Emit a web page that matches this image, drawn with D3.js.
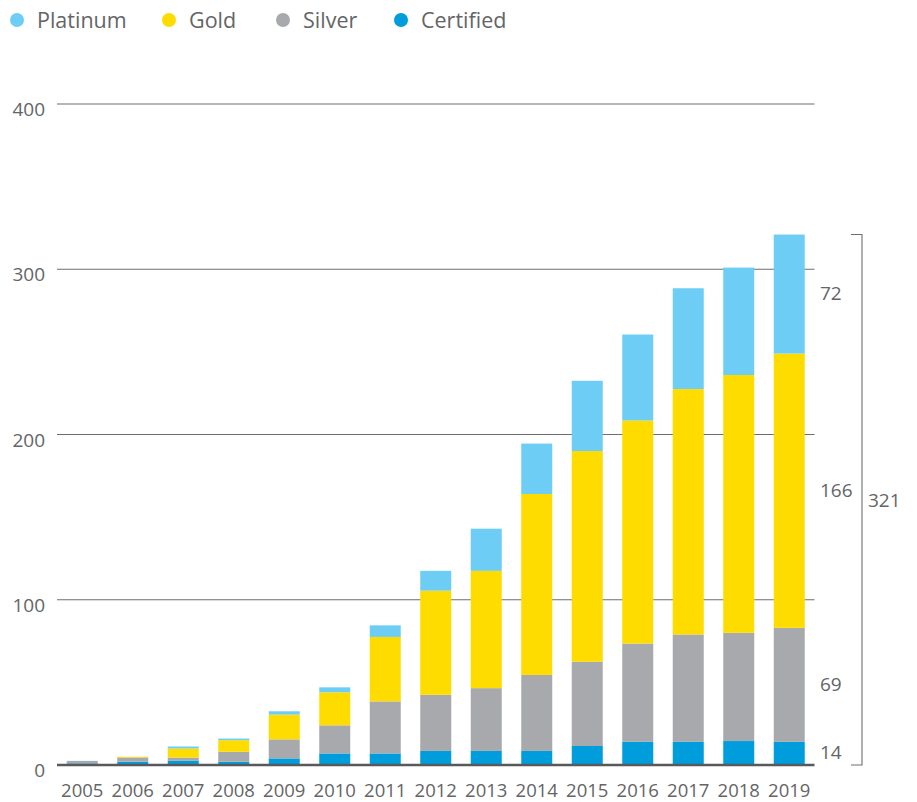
<!DOCTYPE html>
<html>
<head>
<meta charset="utf-8">
<script src="https://d3js.org/d3.v7.min.js"></script>
<style>
  html, body { margin: 0; padding: 0; background: #fff; }
  svg { display: block; font-family: "Open Sans", sans-serif; }
</style>
</head>
<body>
<svg width="917" height="802"></svg>
<script>
// Данные графика
const years = ["2005", "2006", "2007", "2008", "2009", "2010", "2011", "2012",
               "2013", "2014", "2015", "2016", "2017", "2018", "2019"];
const certified = [1, 2, 2.5, 2, 4, 7, 7, 8.5, 8.5, 8.5, 11.5, 14, 14, 14.5, 14];
const silver    = [1.5, 2.5, 2, 6, 11.5, 17, 31.5, 34, 38, 46, 51, 59.5, 65, 65.5, 69];
const gold      = [0, 0.5, 5.5, 7, 15, 20, 39, 63, 71, 109.5, 127.5, 135, 148.5, 156, 166];
const platinum  = [0, 0, 1.2, 1, 2, 3, 7, 12, 25.5, 30.5, 42.5, 52, 61, 65, 72];
const yTicks = [0, 100, 200, 300, 400];

const seriesNames = ["Certified", "Silver", "Gold", "Platinum"];
const legendOrder = ["Platinum", "Gold", "Silver", "Certified"];
const colors = {
    Certified: "#009ddc",
    Silver: "#a7a9ac",
    Gold: "#ffdc00",
    Platinum: "#6dcdf5"
};
const textColor = "#646567";

// Таблица для d3.stack
const table = years.map((y, i) => ({
    year: y,
    Certified: certified[i],
    Silver: silver[i],
    Gold: gold[i],
    Platinum: platinum[i]
}));

const svg = d3.select("svg");

const x = d3.scaleBand()
    .domain(years)
    .range([57, 814.5])
    .paddingInner(0.386)
    .paddingOuter(0.193);

const y = d3.scaleLinear()
    .domain([0, 400])
    .range([765, 104]);

// Сетка
svg.append("g")
    .selectAll("line")
    .data(yTicks.filter(d => d > 0))
    .join("line")
    .attr("x1", 57)
    .attr("x2", 814.5)
    .attr("y1", d => y(d))
    .attr("y2", d => y(d))
    .attr("stroke", "#6d6e71")
    .attr("stroke-width", 1.1);

// Подписи оси Y
svg.append("g")
    .selectAll("text")
    .data(yTicks)
    .join("text")
    .attr("x", 45)
    .attr("y", d => y(d) + 12)
    .attr("text-anchor", "end")
    .attr("font-size", 19)
    .attr("fill", textColor)
    .text(d => d);

// Столбцы
const stacked = d3.stack().keys(seriesNames)(table);

svg.append("g")
    .selectAll("g")
    .data(stacked)
    .join("g")
    .attr("fill", d => colors[d.key])
    .selectAll("rect")
    .data(d => d)
    .join("rect")
    .attr("x", d => x(d.data.year))
    .attr("width", x.bandwidth())
    .attr("y", d => y(d[1]))
    .attr("height", d => y(d[0]) - y(d[1]));

// Базовая линия
svg.append("line")
    .attr("x1", 57)
    .attr("x2", 814.5)
    .attr("y1", y(0))
    .attr("y2", y(0))
    .attr("stroke", "#58595b")
    .attr("stroke-width", 2.5);

// Подписи оси X
svg.append("g")
    .selectAll("text")
    .data(years)
    .join("text")
    .attr("x", d => x(d) + x.bandwidth() / 2)
    .attr("y", 797)
    .attr("text-anchor", "middle")
    .attr("font-size", 18.5)
    .attr("fill", textColor)
    .text(d => d);

// Подписи значений последнего года справа
const last = stacked.map(s => s[s.length - 1]);
svg.append("g")
    .selectAll("text")
    .data(last)
    .join("text")
    .attr("x", 820)
    .attr("y", d => y((d[0] + d[1]) / 2) + 6)
    .attr("font-size", 19)
    .attr("fill", textColor)
    .text(d => Math.round(d[1] - d[0]));

// Скобка с итогом
const total = last[last.length - 1][1];
const bx = 862;
svg.append("path")
    .attr("d", `M${bx - 11},${y(total)}H${bx}V${y(0)}H${bx - 11}`)
    .attr("fill", "none")
    .attr("stroke", "#6d6e71")
    .attr("stroke-width", 1.1);

svg.append("text")
    .attr("x", 868)
    .attr("y", (y(total) + y(0)) / 2 + 7)
    .attr("font-size", 19)
    .attr("fill", textColor)
    .text(Math.round(total));

// Легенда
const legendX = [17, 169, 283, 401];
const legend = svg.append("g")
    .selectAll("g")
    .data(legendOrder)
    .join("g")
    .attr("transform", (d, i) => `translate(${legendX[i]},20)`);

legend.append("circle")
    .attr("r", 7)
    .attr("fill", d => colors[d]);

legend.append("text")
    .attr("x", 20)
    .attr("y", 7.5)
    .attr("font-size", 21.5)
    .attr("fill", textColor)
    .text(d => d);
</script>
</body>
</html>
